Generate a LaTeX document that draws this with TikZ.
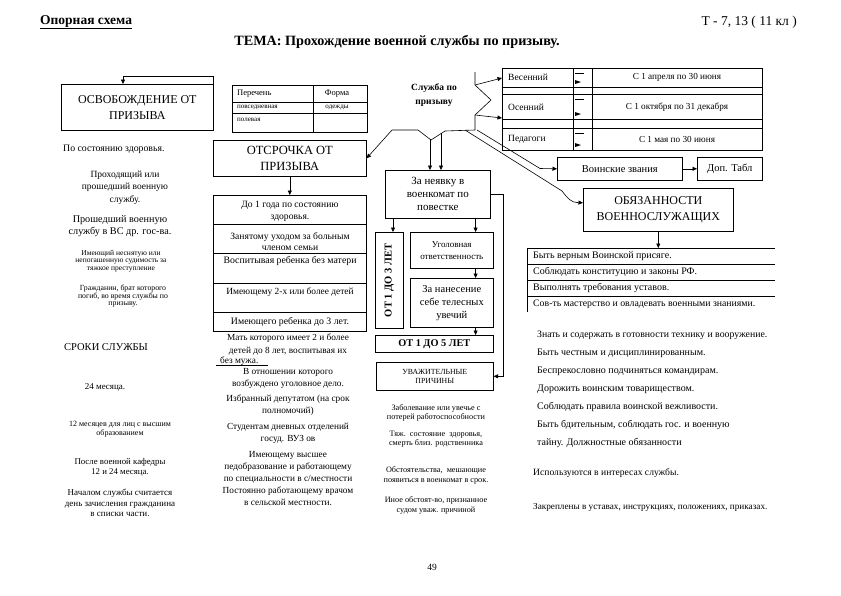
\documentclass[tikz,border=0pt]{standalone}
\usepackage{fontspec}
\setmainfont{Liberation Serif}
\usetikzlibrary{arrows.meta}
\newcommand{\fs}[2]{\fontsize{#1}{#2}\selectfont}
\begin{document}
\begin{tikzpicture}[x=1pt,y=-1pt,
  bx/.style={draw,line width=0.6pt,inner sep=1pt,align=center,anchor=north west},
  ar/.style={-{Triangle[length=4.5pt,width=4pt]},line width=0.6pt},
  ln/.style={line width=0.6pt},
  tx/.style={inner sep=0pt,align=center},
  tl/.style={inner sep=0pt,anchor=west,align=left}]
\path[use as bounding box,fill=white] (0,0) rectangle (841,595);

% header
\node[tl,font=\fs{13.5}{15}\bfseries] (hdr) at (40,22) {\underline{Опорная схема}};
\node[tx,anchor=east,font=\fs{13.5}{15}] (tnum) at (797,22) {Т - 7, 13 ( 11 кл )};
\node[tx,font=\fs{14.2}{16}\bfseries] (tema) at (397,42) {ТЕМА: Прохождение военной службы по призыву.};

% left top box
\node[bx,minimum width=152pt,minimum height=46pt,font=\fs{12}{16}] (osv) at (61,84) {ОСВОБОЖДЕНИЕ ОТ\\ПРИЗЫВА};
\draw[ar] (osv.north east) -- ++(0,-8) -| ([xshift=62pt]osv.north west);

% perechen table
\draw[ln] (232,85) rectangle (367,132);
\draw[ln] (313,85) -- (313,132);
\draw[ln] (232,102) -- (367,102);
\draw[ln] (232,113) -- (367,113);
\node[tl,font=\fs{8.5}{10}] (p1) at (237,94) {Перечень};
\node[tl,font=\fs{7}{8}] (p2) at (237,108) {повседневная};
\node[tl,font=\fs{7}{8}] (p3) at (237,120) {полевая};
\node[tx,font=\fs{8.5}{10}] (f1) at (337,94) {Форма};
\node[tx,font=\fs{7}{8}] (f2) at (337,108) {одежды};

% otsrochka
\node[bx,minimum width=153pt,minimum height=36pt,font=\fs{12.5}{16}] (ots) at (213,140) {ОТСРОЧКА ОТ\\ПРИЗЫВА};
\coordinate (deftop) at (289,195);
\draw[ar] (ots.south) -- (ots.south |- deftop);
\draw[ln] (213,195) rectangle (366,331);
\foreach \yy in {224,253,283,312} \draw[ln] (213,\yy) -- (366,\yy);
\node[tx,font=\fs{9.6}{12}] (d1) at (290,211) {До 1 года по состоянию\\здоровья.};
\node[tx,font=\fs{9.6}{11.5}] (d2) at (290,241.5) {Занятому уходом за больным\\членом семьи};
\node[tx,font=\fs{9.8}{12}] (d3) at (290,261) {Воспитывая ребенка без матери};
\node[tx,font=\fs{9.4}{12}] (d4) at (290,292) {Имеющему 2-х или более детей};
\node[tx,font=\fs{9.8}{12}] (d5) at (290,322) {Имеющего ребенка до 3 лет.};

% below deferment
\node[tx,font=\fs{9.3}{12.5}] (m1) at (288,344.5) {Мать которого имеет 2 и более\\детей до 8 лет, воспитывая их};
\node[tl,font=\fs{9.3}{12}] (m1b) at (220,361) {без мужа.};
\draw[ln] (216,365) -- (268,365);
\node[tx,font=\fs{9.3}{12.5}] (m2) at (288,378.5) {В отношении которого\\возбуждено уголовное дело.};
\node[tx,font=\fs{9.3}{12}] (m3) at (288,405) {Избранный депутатом (на срок\\полномочий)};
\node[tx,font=\fs{9.3}{12}] (m4) at (288,433) {Студентам дневных отделений\\госуд. ВУЗ ов};
\node[tx,font=\fs{9.3}{11.8}] (m5) at (288,478.5) {Имеющему высшее\\педобразование и работающему\\по специальности в с/местности\\Постоянно работающему врачом\\в сельской местности.};

% left column
\node[tl,font=\fs{9.8}{12}] (l1) at (63,149) {По состоянию здоровья.};
\node[tx,font=\fs{9.5}{12.5}] (l2) at (125,187.5) {Проходящий или\\прошедший военную\\службу.};
\node[tx,font=\fs{10.2}{12}] (l3) at (120,226) {Прошедший военную\\службу в ВС др. гос-ва.};
\node[tx,font=\fs{7.5}{7.4}] (l4) at (121,261) {Имеющий неснятую или\\непогашенную судимость за\\тяжкое преступление};
\node[tx,font=\fs{7.8}{7.2}] (l5) at (123,296) {Гражданин, брат которого\\погиб, во время службы по\\призыву.};
\node[tl,font=\fs{10.5}{12}] (s1) at (64,347) {СРОКИ СЛУЖБЫ};
\node[tx,font=\fs{9}{12}] (s2) at (105,387) {24 месяца.};
\node[tx,font=\fs{8}{9}] (s3) at (120,429) {12 месяцев для лиц с высшим\\образованием};
\node[tx,font=\fs{8.8}{10.5}] (s4) at (120,467.5) {После военной кафедры\\12 и 24 месяца.};
\node[tx,font=\fs{9}{10.3}] (s5) at (120,503) {Началом службы считается\\день зачисления гражданина\\в списки части.};

% sluzhba po prizyvu
\node[tx,font=\fs{9.5}{14}\bfseries] (slp) at (434,95) {Служба по\\призыву};
\coordinate (bL) at (392,130);
\coordinate (bR) at (475,130);
\coordinate (bT) at (475,85);
\coordinate (bB) at (475,115);
\coordinate (bA) at (477,130);
\coordinate (bB2) at (465,130);
\draw[ln] (bL) -- (418,130) -- (431,140) -- (445,131) -- (bR);
\draw[ln] (475,72) -- (bT) -- (491,100) -- (bB) -- (bR);
\draw[ar] (bL) -- (ots.east);

% neyavka
\node[bx,minimum width=105pt,minimum height=48pt,font=\fs{11}{13}] (ney) at (385,170) {За неявку в\\военкомат по\\повестке};
\coordinate (v1) at (430,139);
\coordinate (v2) at (441,133);
\draw[ar] (v1) -- (v1 |- ney.north);
\draw[ar] (v2) -- (v2 |- ney.north);
\node[bx,minimum width=28pt,minimum height=96pt] (ot13) at (375,232) {};
\node[tx,rotate=90,font=\fs{10.5}{12}\bfseries] (ot13t) at (ot13.center) {ОТ 1 ДО 3 ЛЕТ};
\node[bx,minimum width=83pt,minimum height=36pt,font=\fs{9}{12}] (ugol) at (410,232) {Уголовная\\ответственность};
\node[bx,minimum width=83pt,minimum height=49pt,font=\fs{10.5}{13}] (nanes) at (410,278) {За нанесение\\себе телесных\\увечий};
\node[bx,minimum width=118pt,minimum height=17pt,font=\fs{10.3}{12}\bfseries] (ot15) at (375,335) {ОТ 1 ДО 5 ЛЕТ};
\node[bx,minimum width=117pt,minimum height=28pt,font=\fs{7.8}{9.5}] (uvaz) at (376,362) {УВАЖИТЕЛЬНЫЕ\\ПРИЧИНЫ};
\draw[ar] ([xshift=8pt]ney.south west) -- ([xshift=8pt]ney.south west |- ot13.north);
\draw[ar] ([xshift=-15pt]ney.south east) -- ([xshift=-15pt]ney.south east |- ugol.north);
\draw[ar] ([xshift=-18pt]ugol.south east) -- ([xshift=-18pt]ugol.south east |- nanes.north);
\draw[ar] ([xshift=-18pt]nanes.south east) -- ([xshift=-18pt]nanes.south east |- ot15.north);
\draw[ar] (ney.east) -- ++(13,0) |- (uvaz.east);
\node[tx,font=\fs{8.2}{9}] (u1) at (436,413) {Заболевание или увечье с\\потерей работоспособности};
\node[tx,font=\fs{8.2}{9}] (u2) at (436,439.5) {Тяж.\ \ состояние\ \ здоровья,\\смерть близ. родственника};
\node[tx,font=\fs{8.2}{10}] (u3) at (436,475) {Обстоятельства,\ \ мешающие\\появиться в военкомат в срок.};
\node[tx,font=\fs{8.2}{10}] (u4) at (436,505) {Иное обстоят-во, признанное\\судом уваж. причиной};

% periods table
\draw[ln] (502,68) rectangle (762,150);
\draw[ln] (573,68) -- (573,150);
\draw[ln] (592,68) -- (592,150);
\foreach \yy in {87,94,119,128} \draw[ln] (502,\yy) -- (762,\yy);
\foreach \ya/\yb in {68/87,94/119,128/150}{
  \draw[line width=0.5pt] (575,\ya+5) -- (584,\ya+5);
  \fill (575,\yb-7) -- (581,\yb-5) -- (575,\yb-3) -- cycle;
}
\coordinate (tV) at (502,78);
\coordinate (tO) at (502,118);
\draw[ar] (bT) -- (tV);
\draw[ar] (bB) -- (tO);
\node[tl,font=\fs{9.5}{10}] (r1) at (508,77.5) {Весенний};
\node[tl,font=\fs{9.5}{10}] (r2) at (508,107.5) {Осенний};
\node[tl,font=\fs{9.5}{10}] (r3) at (508,139.5) {Педагоги};
\node[tx,font=\fs{9.2}{10}] (q1) at (677,77.5) {С 1 апреля по 30 июня};
\node[tx,font=\fs{9.2}{10}] (q2) at (677,107.5) {С 1 октября по 31 декабря};
\node[tx,font=\fs{9.2}{10}] (q3) at (677,139.5) {С 1 мая по 30 июня};

% ranks
\node[bx,minimum width=125pt,minimum height=23pt,font=\fs{10.5}{12}] (voin) at (557,157) {Воинские звания};
\node[bx,minimum width=65pt,minimum height=23pt,font=\fs{10.5}{12}] (dop) at (697,157) {Доп. Табл};
\draw[ar] (bA) -- (540,168.5) -- (voin.west);
\draw[ar] (voin.east) -- (dop.west);

% duties
\node[bx,minimum width=150pt,minimum height=43pt,font=\fs{12}{16}] (obyaz) at (583,188) {ОБЯЗАННОСТИ\\ВОЕННОСЛУЖАЩИХ};
\draw[ar] (bB2) -- (562,191) .. controls (568,199) and (572,202.5) .. (577,202.5) -- ([yshift=7pt]obyaz.west);
\coordinate (lt) at (660,248);
\draw[ar] (obyaz.south) -- (obyaz.south |- lt);
\foreach \yy in {248,264,280,296} \draw[ln] (527,\yy) -- (775,\yy);
\draw[ln] (527,248) -- (527,312);
\node[tl,font=\fs{10}{10}] (o1) at (533,256) {Быть верным Воинской присяге.};
\node[tl,font=\fs{10}{10}] (o2) at (533,272) {Соблюдать конституцию и законы РФ.};
\node[tl,font=\fs{10}{10}] (o3) at (533,288) {Выполнять требования уставов.};
\node[tl,font=\fs{9.8}{10}] (o4) at (533,304) {Сов-ть мастерство и овладевать военными знаниями.};
\node[tl,font=\fs{9.8}{10}] (k1) at (537,335) {Знать и содержать в готовности технику и вооружение.};
\node[tl,font=\fs{10}{10}] (k2) at (537,353) {Быть честным и дисциплинированным.};
\node[tl,font=\fs{10}{10}] (k3) at (537,371) {Беспрекословно подчиняться командирам.};
\node[tl,font=\fs{10}{10}] (k4) at (537,389) {Дорожить воинским товариществом.};
\node[tl,font=\fs{10}{10}] (k5) at (537,407) {Соблюдать правила воинской вежливости.};
\node[tl,font=\fs{10}{10}] (k6) at (537,425) {Быть бдительным, соблюдать гос. и военную};
\node[tl,font=\fs{10}{10}] (k7) at (537,443) {тайну. Должностные обязанности};
\node[tl,font=\fs{9.6}{10}] (k8) at (533,473) {Используются в интересах службы.};
\node[tl,font=\fs{9.2}{10}] (k9) at (533,507) {Закреплены в уставах, инструкциях, положениях, приказах.};

\node[tx,font=\fs{9.5}{11}] (pg) at (432,567) {49};
\end{tikzpicture}
\end{document}
